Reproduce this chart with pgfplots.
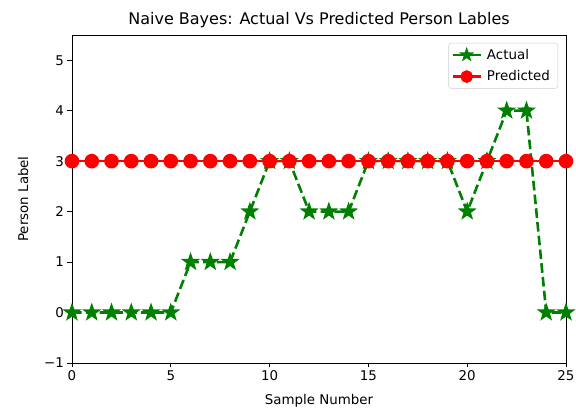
\documentclass[border=0pt]{standalone}
\usepackage{fontspec}
\setmainfont{DejaVu Sans}
\usepackage{pgfplots}
\pgfplotsset{compat=1.18}
\usetikzlibrary{plotmarks,calc}
\definecolor{mplgreen}{HTML}{008000}
\definecolor{mplred}{HTML}{FF0000}
\pgfdeclareplotmark{fstar}{%
  \pgfpathmoveto{\pgfpointpolar{90}{\pgfplotmarksize}}%
  \pgfpathlineto{\pgfpointpolar{126}{0.4\pgfplotmarksize}}%
  \pgfpathlineto{\pgfpointpolar{162}{\pgfplotmarksize}}%
  \pgfpathlineto{\pgfpointpolar{198}{0.4\pgfplotmarksize}}%
  \pgfpathlineto{\pgfpointpolar{234}{\pgfplotmarksize}}%
  \pgfpathlineto{\pgfpointpolar{270}{0.4\pgfplotmarksize}}%
  \pgfpathlineto{\pgfpointpolar{306}{\pgfplotmarksize}}%
  \pgfpathlineto{\pgfpointpolar{342}{0.4\pgfplotmarksize}}%
  \pgfpathlineto{\pgfpointpolar{18}{\pgfplotmarksize}}%
  \pgfpathlineto{\pgfpointpolar{54}{0.4\pgfplotmarksize}}%
  \pgfpathclose
  \pgfusepathqfill
}
\begin{document}
\begin{tikzpicture}
\begin{axis}[
  name=ax,
  scale only axis,
  width=494pt, height=328pt,
  xmin=0, xmax=25, ymin=-1, ymax=5.5,
  xtick={0,5,...,25}, ytick={-1,0,...,5},
  yticklabels={−1,0,1,2,3,4,5},
  tick align=outside, tick pos=left,
  major tick length=4.5pt,
  tick style={black, line width=0.8pt},
  axis line style={line width=0.8pt},
  /pgf/number format/assume math mode=true,
  ticklabel style={font=\fontsize{13.4}{15}\selectfont},
  title={Naive Bayes: Actual Vs Predicted Person Lables},
  title style={font=\fontsize{16}{19}\selectfont, yshift=-2pt},
  xlabel={Sample Number}, ylabel={Person Label},
  label style={font=\fontsize{13.4}{15}\selectfont},
  xlabel style={yshift=-6pt},
  ylabel style={yshift=9pt},
  legend style={font=\fontsize{13.4}{15}\selectfont, draw=black!20, rounded corners=3pt,
    at={(0.984,0.976)}, anchor=north east, inner xsep=3pt, inner ysep=3pt, row sep=4pt,
    nodes={inner xsep=5pt, inner ysep=3pt}},
  legend cell align=left,
  clip=false,
]
\addplot[mplgreen, line width=2.6pt, dash pattern=on 9.6pt off 4.2pt,
  mark=fstar, mark size=10pt, mark options={solid, fill=mplgreen},
  legend image code/.code={
    \draw[mplgreen, solid, line width=2.6pt] (0pt,0pt) -- (28pt,0pt);
    \fill[mplgreen] plot[mark=fstar, mark size=8pt] coordinates {(14pt,0pt)};
  }]
coordinates {(0,0)(1,0)(2,0)(3,0)(4,0)(5,0)(6,1)(7,1)(8,1)(9,2)(10,3)(11,3)(12,2)(13,2)(14,2)(15,3)(16,3)(17,3)(18,3)(19,3)(20,2)(21,3)(22,4)(23,4)(24,0)(25,0)};
\addlegendentry{Actual}
\addplot[mplred, line width=2.6pt, mark=*, mark size=6pt, mark options={solid, fill=mplred, draw=none},
  legend image code/.code={
    \draw[mplred, solid, line width=2.6pt] (0pt,0pt) -- (28pt,0pt);
    \fill[mplred] (14pt,0pt) circle (5pt);
  }]
coordinates {(0,3)(1,3)(2,3)(3,3)(4,3)(5,3)(6,3)(7,3)(8,3)(9,3)(10,3)(11,3)(12,3)(13,3)(14,3)(15,3)(16,3)(17,3)(18,3)(19,3)(20,3)(21,3)(22,3)(23,3)(24,3)(25,3)};
\addlegendentry{Predicted}
\end{axis}
\pgfresetboundingbox
\path ($(ax.south west)+(-72pt,-46pt)$) rectangle ($(ax.north east)+(10pt,35pt)$);
\end{tikzpicture}
\end{document}
